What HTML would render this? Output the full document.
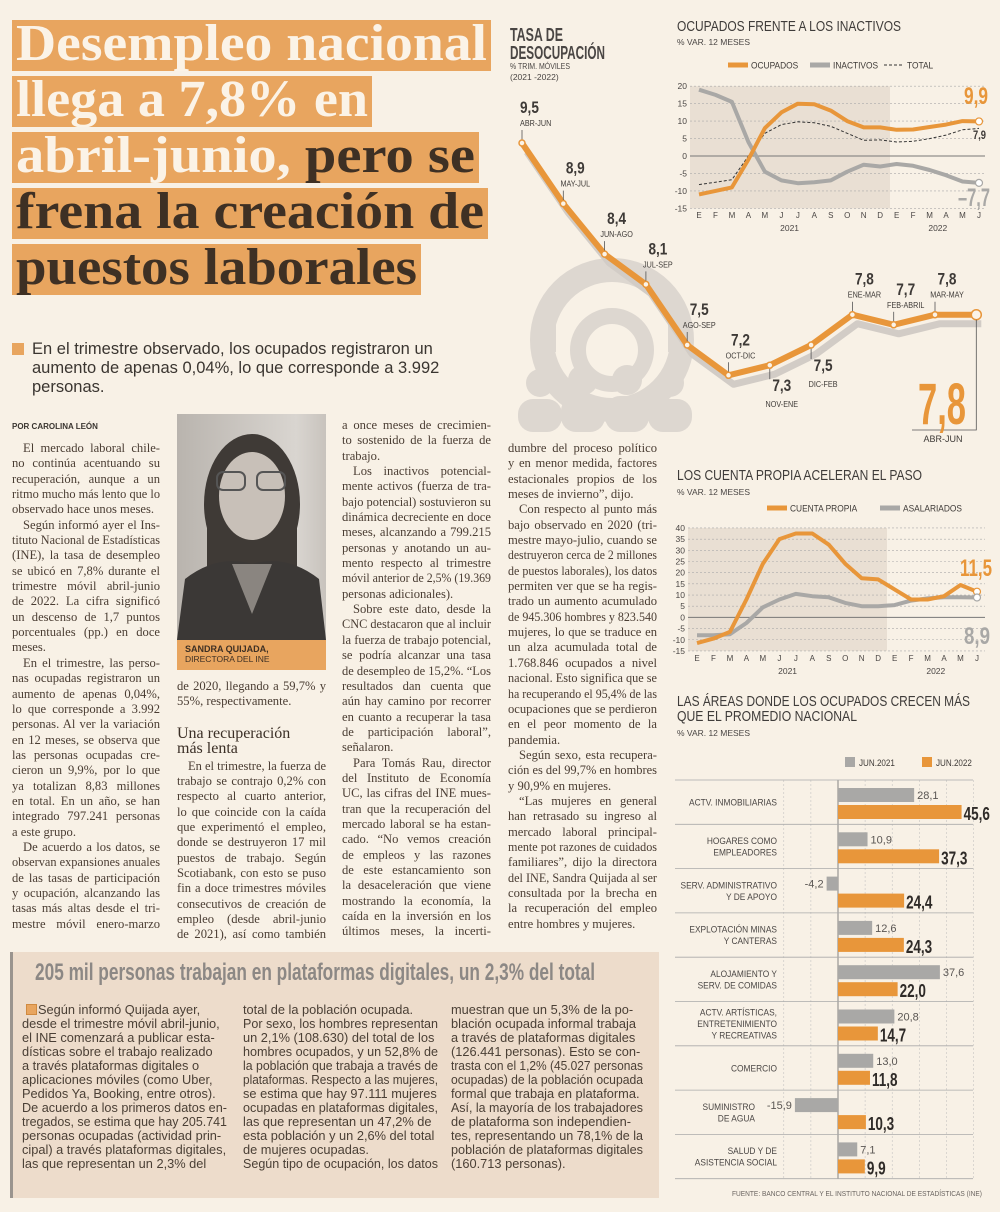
<!DOCTYPE html>
<html lang="es"><head><meta charset="utf-8">
<style>
html,body{margin:0;padding:0}
body{width:1000px;height:1212px;position:relative;background:#f8f1e6;overflow:hidden;font-family:"Liberation Serif",serif;color:#4a3d33}
.abs{position:absolute}
.hb{position:absolute;left:12px;height:51px;background:#e8a55f;overflow:hidden}
.hb > span{position:absolute;left:4px;top:-6px;font:bold 52px/60px "Liberation Serif",serif;white-space:nowrap;display:inline-block;transform-origin:left}
.w{color:#fbf3e7}.d{color:#3e3024}
.col{position:absolute;font-size:12.6px;line-height:15.35px;color:#4a3d33}
.l{height:15.35px;white-space:nowrap;overflow:visible}
.l.i{padding-left:11px}
.bcol{position:absolute;font:12.8px/14px "Liberation Sans Narrow","Liberation Sans",sans-serif;color:#4a3f35}
.bcol .l{height:14px}
.fitw > span{display:inline-block;transform-origin:left}
</style></head><body>
<div class="hb" style="top:20px;width:479px"><span class="w">Desempleo nacional</span></div>
<div class="hb" style="top:76px;width:360px"><span class="w">llega a 7,8% en</span></div>
<div class="hb" style="top:132px;width:467px"><span><span class="w">abril-junio,</span> <span class="d">pero se</span></span></div>
<div class="hb" style="top:188px;width:476px"><span class="d">frena la creación de</span></div>
<div class="hb" style="top:244px;width:409px"><span class="d">puestos laborales</span></div>

<div class="abs" style="left:12px;top:343px;width:12px;height:12px;background:#e8a55f"></div>
<div class="abs" style="left:32px;top:340px;width:440px;font:16.5px/19px 'Liberation Sans',sans-serif;color:#3a3530">En el trimestre observado, los ocupados registraron un<br>aumento de apenas 0,04%, lo que corresponde a 3.992<br>personas.</div>
<div class="abs" style="left:12px;top:422px;font:bold 8px 'Liberation Sans',sans-serif;color:#3a3530">POR CAROLINA LEÓN</div>

<div class="abs" style="left:177px;top:414px;width:149px;height:226px;background:linear-gradient(90deg,#b9b4ae,#d9d5d0 80%,#c8c3bd);overflow:hidden">
<svg width="149" height="226">
<ellipse cx="75" cy="90" rx="48" ry="70" fill="#3f3a36"/>
<rect x="30" y="80" width="90" height="80" fill="#3f3a36"/>
<ellipse cx="75" cy="82" rx="33" ry="44" fill="#c8c0b8"/>
<rect x="40" y="58" width="28" height="18" rx="6" fill="none" stroke="#555" stroke-width="2"/>
<rect x="80" y="58" width="28" height="18" rx="6" fill="none" stroke="#555" stroke-width="2"/>
<path d="M0 226 L8 165 Q40 140 75 150 Q110 140 142 165 L149 226Z" fill="#3b3836"/>
<path d="M55 150 L75 200 L95 150Z" fill="#8a8580"/>
</svg></div>
<div class="abs" style="left:177px;top:640px;width:149px;height:30px;background:#e8a55f;font:8.5px/10px 'Liberation Sans',sans-serif;color:#3e3024"><div style="padding:4px 0 0 8px"><b style="font-size:9px">SANDRA QUIJADA,</b><br>DIRECTORA DEL INE</div></div>

<div class="col" style="left:12px;top:441px;width:148px">
<div class="l i">El mercado laboral chile-</div><div class="l">no continúa acentuando su</div><div class="l">recuperación, aunque a un</div><div class="l">ritmo mucho más lento que lo</div><div class="l e">observado hace unos meses.</div>
<div class="l i">Según informó ayer el Ins-</div><div class="l">tituto Nacional de Estadísticas</div><div class="l">(INE), la tasa de desempleo</div><div class="l">se ubicó en 7,8% durante el</div><div class="l">trimestre móvil abril-junio</div><div class="l">de 2022. La cifra significó</div><div class="l">un descenso de 1,7 puntos</div><div class="l">porcentuales (pp.) en doce</div><div class="l e">meses.</div>
<div class="l i">En el trimestre, las perso-</div><div class="l">nas ocupadas registraron un</div><div class="l">aumento de apenas 0,04%,</div><div class="l">lo que corresponde a 3.992</div><div class="l">personas. Al ver la variación</div><div class="l">en 12 meses, se observa que</div><div class="l">las personas ocupadas cre-</div><div class="l">cieron un 9,9%, por lo que</div><div class="l">ya totalizan 8,83 millones</div><div class="l">en total. En un año, se han</div><div class="l">integrado 797.241 personas</div><div class="l e">a este grupo.</div>
<div class="l i">De acuerdo a los datos, se</div><div class="l">observan expansiones anuales</div><div class="l">de las tasas de participación</div><div class="l">y ocupación, alcanzando las</div><div class="l">tasas más altas desde el tri-</div><div class="l">mestre móvil enero-marzo</div>
</div>

<div class="col" style="left:177px;top:679px;width:149px">
<div class="l">de 2020, llegando a 59,7% y</div><div class="l e">55%, respectivamente.</div>
<div style="height:16px"></div>
<div style="font-size:16px;line-height:15px;color:#3b2f26">Una recuperación<br>más lenta</div>
<div style="height:3px"></div>
<div class="l i">En el trimestre, la fuerza de</div><div class="l">trabajo se contrajo 0,2% con</div><div class="l">respecto al cuarto anterior,</div><div class="l">lo que coincide con la caída</div><div class="l">que experimentó el empleo,</div><div class="l">donde se destruyeron 17 mil</div><div class="l">puestos de trabajo. Según</div><div class="l">Scotiabank, con esto se puso</div><div class="l">fin a doce trimestres móviles</div><div class="l">consecutivos de creación de</div><div class="l">empleo (desde abril-junio</div><div class="l">de 2021), así como también</div>
</div>

<div class="col" style="left:342px;top:418px;width:149px">
<div class="l">a once meses de crecimien-</div><div class="l">to sostenido de la fuerza de</div><div class="l e">trabajo.</div>
<div class="l i">Los inactivos potencial-</div><div class="l">mente activos (fuerza de tra-</div><div class="l">bajo potencial) sostuvieron su</div><div class="l">dinámica decreciente en doce</div><div class="l">meses, alcanzando a 799.215</div><div class="l">personas y anotando un au-</div><div class="l">mento respecto al trimestre</div><div class="l">móvil anterior de 2,5% (19.369</div><div class="l e">personas adicionales).</div>
<div class="l i">Sobre este dato, desde la</div><div class="l">CNC destacaron que al incluir</div><div class="l">la fuerza de trabajo potencial,</div><div class="l">se podría alcanzar una tasa</div><div class="l">de desempleo de 15,2%. “Los</div><div class="l">resultados dan cuenta que</div><div class="l">aún hay camino por recorrer</div><div class="l">en cuanto a recuperar la tasa</div><div class="l">de participación laboral”,</div><div class="l e">señalaron.</div>
<div class="l i">Para Tomás Rau, director</div><div class="l">del Instituto de Economía</div><div class="l">UC, las cifras del INE mues-</div><div class="l">tran que la recuperación del</div><div class="l">mercado laboral se ha estan-</div><div class="l">cado. “No vemos creación</div><div class="l">de empleos y las razones</div><div class="l">de este estancamiento son</div><div class="l">la desaceleración que viene</div><div class="l">mostrando la economía, la</div><div class="l">caída en la inversión en los</div><div class="l">últimos meses, la incerti-</div>
</div>

<div class="col" style="left:508px;top:441px;width:149px">
<div class="l">dumbre del proceso político</div><div class="l">y en menor medida, factores</div><div class="l">estacionales propios de los</div><div class="l e">meses de invierno”, dijo.</div>
<div class="l i">Con respecto al punto más</div><div class="l">bajo observado en 2020 (tri-</div><div class="l">mestre mayo-julio, cuando se</div><div class="l">destruyeron cerca de 2 millones</div><div class="l">de puestos laborales), los datos</div><div class="l">permiten ver que se ha regis-</div><div class="l">trado un aumento acumulado</div><div class="l">de 945.306 hombres y 823.540</div><div class="l">mujeres, lo que se traduce en</div><div class="l">un alza acumulada total de</div><div class="l">1.768.846 ocupados a nivel</div><div class="l">nacional. Esto significa que se</div><div class="l">ha recuperando el 95,4% de las</div><div class="l">ocupaciones que se perdieron</div><div class="l">en el peor momento de la</div><div class="l e">pandemia.</div>
<div class="l i">Según sexo, esta recupera-</div><div class="l">ción es del 99,7% en hombres</div><div class="l e">y 90,9% en mujeres.</div>
<div class="l i">“Las mujeres en general</div><div class="l">han retrasado su ingreso al</div><div class="l">mercado laboral principal-</div><div class="l">mente pot razones de cuidados</div><div class="l">familiares”, dijo la directora</div><div class="l">del INE, Sandra Quijada al ser</div><div class="l">consultada por la brecha en</div><div class="l">la recuperación del empleo</div><div class="l e">entre hombres y mujeres.</div>
</div>

<div class="abs" style="left:10px;top:952px;width:646px;height:246px;background:#eddccb;border-left:3px solid #9a948e"></div>
<div class="abs fitw" style="left:35px;top:958px;width:568px;font:bold 24px/30px 'Liberation Sans Narrow','Liberation Sans',sans-serif;color:#8c8885;white-space:nowrap"><span>205 mil personas trabajan en plataformas digitales, un 2,3% del total</span></div>
<div class="abs" style="left:26px;top:1004px;width:9px;height:9px;background:#e8a55f;border:1px solid #d08a40"></div>
<div class="bcol" style="left:22px;top:1003px;width:205px">
<div class="l e" style="padding-left:16px">Según informó Quijada ayer,</div><div class="l e">desde el trimestre móvil abril-junio,</div><div class="l e">el INE comenzará a publicar esta-</div><div class="l e">dísticas sobre el trabajo realizado</div><div class="l e">a través plataformas digitales o</div><div class="l e">aplicaciones móviles (como Uber,</div><div class="l e">Pedidos Ya, Booking, entre otros).</div><div class="l e">De acuerdo a los primeros datos en-</div><div class="l e">tregados, se estima que hay 205.741</div><div class="l e">personas ocupadas (actividad prin-</div><div class="l e">cipal) a través plataformas digitales,</div><div class="l e">las que representan un 2,3% del</div>
</div>
<div class="bcol" style="left:243px;top:1003px;width:195px">
<div class="l e">total de la población ocupada.</div><div class="l e">Por sexo, los hombres representan</div><div class="l e">un 2,1% (108.630) del total de los</div><div class="l e">hombres ocupados, y un 52,8% de</div><div class="l e">la población que trabaja a través de</div><div class="l e">plataformas. Respecto a las mujeres,</div><div class="l e">se estima que hay 97.111 mujeres</div><div class="l e">ocupadas en plataformas digitales,</div><div class="l e">las que representan un 47,2% de</div><div class="l e">esta población y un 2,6% del total</div><div class="l e">de mujeres ocupadas.</div><div class="l e">Según tipo de ocupación, los datos</div>
</div>
<div class="bcol" style="left:451px;top:1003px;width:192px">
<div class="l e">muestran que un 5,3% de la po-</div><div class="l e">blación ocupada informal trabaja</div><div class="l e">a través de plataformas digitales</div><div class="l e">(126.441 personas). Esto se con-</div><div class="l e">trasta con el 1,2% (45.027 personas</div><div class="l e">ocupadas) de la población ocupada</div><div class="l e">formal que trabaja en plataforma.</div><div class="l e">Así, la mayoría de los trabajadores</div><div class="l e">de plataforma son independien-</div><div class="l e">tes, representando un 78,1% de la</div><div class="l e">población de plataformas digitales</div><div class="l e">(160.713 personas).</div>
</div>

<svg id="charts" class="abs" style="left:0;top:0" width="1000" height="1212">
<g font-family="Liberation Sans Narrow, Liberation Sans, sans-serif">
<text x="510" y="41" font-size="18" font-weight="bold" fill="#4a4644" textLength="53" lengthAdjust="spacingAndGlyphs">TASA DE</text>
<text x="510" y="59" font-size="18" font-weight="bold" fill="#4a4644" textLength="95" lengthAdjust="spacingAndGlyphs">DESOCUPACIÓN</text>
<text x="510" y="69" font-size="8.5" fill="#4a4644" textLength="60" lengthAdjust="spacingAndGlyphs">% TRIM. MÓVILES</text>
<text x="510" y="80" font-size="8.5" fill="#4a4644">(2021 -2022)</text>
<g fill="#ddd7d0">
<circle cx="612" cy="340" r="70" fill="none" stroke="#ddd7d0" stroke-width="24"/>
<circle cx="612" cy="350" r="34" fill="none" stroke="#ddd7d0" stroke-width="16"/>
<rect x="597" y="260" width="30" height="22"/><rect x="534" y="322" width="22" height="30"/><rect x="668" y="322" width="22" height="30"/>
<circle cx="540" cy="383" r="14"/><circle cx="583" cy="380" r="15"/><circle cx="627" cy="380" r="15"/><circle cx="670" cy="383" r="14"/>
<rect x="518" y="399" width="44" height="33" rx="15"/><rect x="561" y="396" width="44" height="36" rx="15"/><rect x="605" y="396" width="44" height="36" rx="15"/><rect x="648" y="399" width="44" height="33" rx="15"/>
</g>
<g id="tasa"></g>
<text x="677" y="31" font-size="14.5" fill="#3f3c3a" textLength="224" lengthAdjust="spacingAndGlyphs">OCUPADOS FRENTE A LOS INACTIVOS</text>
<text x="677" y="45" font-size="8.5" fill="#4a4644" textLength="73" lengthAdjust="spacingAndGlyphs">% VAR. 12 MESES</text>
<g id="occ"></g>
<text x="677" y="480" font-size="14.5" fill="#3f3c3a" textLength="245" lengthAdjust="spacingAndGlyphs">LOS CUENTA PROPIA ACELERAN EL PASO</text>
<text x="677" y="495" font-size="8.5" fill="#4a4644" textLength="73" lengthAdjust="spacingAndGlyphs">% VAR. 12 MESES</text>
<g id="cp"></g>
<text x="677" y="706" font-size="14.5" fill="#3f3c3a" textLength="293" lengthAdjust="spacingAndGlyphs">LAS ÁREAS DONDE LOS OCUPADOS CRECEN MÁS</text>
<text x="677" y="721" font-size="14.5" fill="#3f3c3a" textLength="180" lengthAdjust="spacingAndGlyphs">QUE EL PROMEDIO NACIONAL</text>
<text x="677" y="736" font-size="8.5" fill="#4a4644" textLength="73" lengthAdjust="spacingAndGlyphs">% VAR. 12 MESES</text>
<g id="bars"></g>
<text x="732" y="1196" font-size="7" fill="#6a6460" textLength="250" lengthAdjust="spacingAndGlyphs">FUENTE: BANCO CENTRAL Y EL INSTITUTO NACIONAL DE ESTADÍSTICAS (INE)</text>
</g></svg>

<script>
// ---- Data ----
const tasaPeriods = ['ABR-JUN','MAY-JUL','JUN-AGO','JUL-SEP','AGO-SEP','OCT-DIC','NOV-ENE','DIC-FEB','ENE-MAR','FEB-ABRIL','MAR-MAY','ABR-JUN'];
const tasaValues = [9.5, 8.9, 8.4, 8.1, 7.5, 7.2, 7.3, 7.5, 7.8, 7.7, 7.8, 7.8];
const months = ['E','F','M','A','M','J','J','A','S','O','N','D','E','F','M','A','M','J'];
const yearLabels = ['2021','2022'];
const occOcupados = [-11, -10, -9, -1, 8, 12.5, 15, 14.8, 13, 10, 8.2, 8.2, 7.5, 7.6, 8.3, 9, 10, 9.9];
const occInactivos = [19, 17.5, 15.5, 4, -4.5, -7, -7.8, -7.5, -7, -4.5, -2.5, -3, -2.3, -2.8, -4, -5.5, -7.3, -7.7];
const occTotal = [-8.2, -7.5, -6.8, 0, 6.5, 9, 9.8, 9.5, 8.5, 6.5, 4.5, 4.6, 4, 4.2, 5, 6, 7.5, 7.9];
const occTicks = [20, 15, 10, 5, 0, -5, -10, -15];
const cpCuentaPropia = [-11.5, -9.5, -6.5, 8, 24, 35, 37.5, 37.5, 32.5, 24, 17.5, 17, 12.5, 8, 8, 9.5, 14.5, 11.5];
const cpAsalariados = [-8, -8, -7.5, -2.5, 4.5, 8, 10.5, 9.5, 9, 6.5, 5, 5, 5.5, 7.5, 8.5, 9, 9, 8.9];
const cpTicks = [40, 35, 30, 25, 20, 15, 10, 5, 0, -5, -10, -15];
const barCategories = ['ACTV. INMOBILIARIAS','HOGARES COMO\nEMPLEADORES','SERV. ADMINISTRATIVO\nY DE APOYO','EXPLOTACIÓN MINAS\nY CANTERAS','ALOJAMIENTO Y\nSERV. DE COMIDAS','ACTV. ARTÍSTICAS,\nENTRETENIMIENTO\nY RECREATIVAS','COMERCIO','SUMINISTRO\nDE AGUA','SALUD Y DE\nASISTENCIA SOCIAL'];
const bar2021 = [28.1, 10.9, -4.2, 12.6, 37.6, 20.8, 13.0, -15.9, 7.1];
const bar2022 = [45.6, 37.3, 24.4, 24.3, 22.0, 14.7, 11.8, 10.3, 9.9];
const barGrid = [-20, -10, 0, 10, 20, 30, 40, 50];

const NS='http://www.w3.org/2000/svg';
const ORANGE='#e8963a', GRAY='#a9a8a6';
function mk(tag, attrs, parent){const e=document.createElementNS(NS,tag);for(const k in attrs)e.setAttribute(k,attrs[k]);parent.appendChild(e);return e;}
function fmt(v){return v.toFixed(1).replace('.',',');}
function pathD(xs,ys){return xs.map((x,i)=>(i?'L':'M')+x.toFixed(1)+' '+ys[i].toFixed(1)).join(' ');}
function narrow(t,f){const w=t.getComputedTextLength();if(w>0){t.setAttribute('textLength',(w*f).toFixed(1));t.setAttribute('lengthAdjust','spacingAndGlyphs');}}

// ---- Tasa chart ----
(function(){
const g=document.getElementById('tasa');
const tx=i=>522+i*41.3, ty=v=>143+(9.5-v)*101;
const xs=tasaValues.map((v,i)=>tx(i)), ys=tasaValues.map(ty);
const sh=mk('path',{d:pathD(xs.map(x=>x+5),ys.map(y=>y+9)),fill:'none',stroke:'#d2ccc6','stroke-width':7,'stroke-linejoin':'round'},g);


const ln=mk('path',{d:pathD(xs,ys),fill:'none',stroke:ORANGE,'stroke-width':6,'stroke-linejoin':'round'},g);


const below=[6,7];
tasaValues.forEach((v,i)=>{
  const x=xs[i], y=ys[i], b=below.includes(i), last=i===tasaValues.length-1;
  if(!last){
    const t=mk('line',{x1:x,y1:y,x2:x,y2:b?y+14:y-13,stroke:'#555','stroke-width':0.8},g);
    
    
    const lx=i===0?x-2:x+12, anc=i===0?'start':'middle';
    const vt=mk('text',{x:lx,y:b?y+26:y-30,'font-size':17,'font-weight':'bold','text-anchor':anc,fill:'#3e3a37'},g);
    vt.textContent=fmt(v);
    
    
    narrow(vt,0.8);
    const pt=mk('text',{x:lx,y:b?y+42:y-17,'font-size':8.5,'text-anchor':anc,fill:'#3e3a37'},g);
    pt.textContent=tasaPeriods[i];
    
    
    narrow(pt,0.85);
  }
  const c=mk('circle',{cx:x,cy:y,r:last?5:3,fill:'#fbf3e7',stroke:ORANGE,'stroke-width':1.5},g);
  
  
});
const lx=xs[xs.length-1], ly=ys[ys.length-1];
const vl=mk('path',{d:`M${lx} ${ly+5} L${lx} 430 L912 430`,fill:'none',stroke:'#555','stroke-width':0.8},g);


const big=mk('text',{x:918,y:424,'font-size':58,'font-weight':'bold',fill:ORANGE,textLength:48,lengthAdjust:'spacingAndGlyphs'},g);
big.textContent=fmt(tasaValues[tasaValues.length-1]);


const bp=mk('text',{x:943,y:442,'font-size':9,'text-anchor':'middle',fill:'#3e3a37'},g);
bp.textContent=tasaPeriods[tasaPeriods.length-1];


})();

// ---- shared line chart builder ----
function lineChart(g, cfg){
  const {x0,dx,zeroY,scale,left,right,shadeR,ticks,series,monthY,name}=cfg;
  const X=i=>x0+i*dx, Y=v=>zeroY-v*scale;
  const top=Y(ticks[0]), bot=Y(ticks[ticks.length-1]);
  const sh=mk('rect',{x:left,y:top,width:shadeR-left,height:bot-top,fill:'#e9dfd3'},g);
  
  
  ticks.forEach(t=>{
    const gl=mk('line',{x1:left,x2:right,y1:Y(t),y2:Y(t),stroke:t===0?'#777':'#aaa','stroke-width':t===0?1:0.6,'stroke-dasharray':t===0?'':'2 2'},g);
    
    
    const tl=mk('text',{x:left-3,y:Y(t)+3,'font-size':8.5,'text-anchor':'end',fill:'#4a4644'},g);
    tl.textContent=t;
    
    
  });
  months.forEach((m,i)=>{
    const ml=mk('text',{x:X(i),y:monthY,'font-size':8,'text-anchor':'middle',fill:'#4a4644'},g);
    ml.textContent=m;
    
    
  });
  yearLabels.forEach((yl,k)=>{
    const cx=k===0?(X(0)+X(11))/2:(X(12)+X(17))/2;
    const t=mk('text',{x:cx,y:monthY+13,'font-size':8.5,'text-anchor':'middle',fill:'#4a4644'},g);
    t.textContent=yl;
    
    
  });
  series.forEach(s=>{
    const p=mk('path',{d:pathD(s.data.map((v,i)=>X(i)),s.data.map(Y)),fill:'none',stroke:s.color,'stroke-width':s.w,'stroke-dasharray':s.dash||'','stroke-linejoin':'round'},g);
    
    
  });
  return {X,Y};
}
function legendItem(g,x,y,color,w,dash,label,name){
  const l=mk('line',{x1:x,x2:x+20,y1:y,y2:y,stroke:color,'stroke-width':w,'stroke-dasharray':dash||''},g);
  
  
  const t=mk('text',{x:x+23,y:y+3.5,'font-size':9.5,fill:'#3e3a37'},g);
  t.textContent=label;
  
  
  narrow(t,0.88);
}
function endLabel(g,x,y,txt,size,color,name,len){
  const t=mk('text',{x:x-len,y:y,'font-size':size,'font-weight':'bold',fill:color,textLength:len,lengthAdjust:'spacingAndGlyphs'},g);
  t.textContent=txt;
  
  
}

// ---- Ocupados chart ----
(function(){
const g=document.getElementById('occ');
legendItem(g,728,65,ORANGE,5,'','OCUPADOS','legend-ocupados');
legendItem(g,810,65,GRAY,5,'','INACTIVOS','legend-inactivos');
legendItem(g,884,65,'#333',1,'3 2','TOTAL','legend-total');
const {X,Y}=lineChart(g,{x0:699,dx:16.47,zeroY:156,scale:3.49,left:690,right:985,shadeR:890,ticks:occTicks,monthY:218,name:'ocupados',
 series:[{data:occInactivos,color:GRAY,w:4,name:'inactivos-line'},{data:occTotal,color:'#333',w:1,dash:'3 2',name:'total-line'},{data:occOcupados,color:ORANGE,w:4,name:'ocupados-line'}]});
const n=occOcupados.length-1;
[[occOcupados,ORANGE],[occInactivos,GRAY]].forEach(([d,c])=>{
  const p=mk('circle',{cx:X(n),cy:Y(d[n]),r:3.5,fill:'#fff',stroke:c,'stroke-width':1.2},g);
  
  
});
endLabel(g,988,104,fmt(occOcupados[n]),24,ORANGE,'ocupados-final-value',24);
endLabel(g,986,139,fmt(occTotal[n]),12,'#3e3a37','total-final-value',13);
endLabel(g,990,206,fmt(occInactivos[n]).replace('-','–'),25,GRAY,'inactivos-final-value',32);
})();

// ---- Cuenta propia chart ----
(function(){
const g=document.getElementById('cp');
legendItem(g,767,508,ORANGE,5,'','CUENTA PROPIA','legend-cuenta-propia');
legendItem(g,880,508,GRAY,5,'','ASALARIADOS','legend-asalariados');
const {X,Y}=lineChart(g,{x0:697,dx:16.47,zeroY:617.4,scale:2.236,left:688,right:985,shadeR:887,ticks:cpTicks,monthY:661,name:'cuenta-propia',
 series:[{data:cpAsalariados,color:GRAY,w:4,name:'asalariados-line'},{data:cpCuentaPropia,color:ORANGE,w:4,name:'cuenta-propia-line'}]});
const n=cpCuentaPropia.length-1;
[[cpCuentaPropia,ORANGE],[cpAsalariados,GRAY]].forEach(([d,c])=>{
  const p=mk('circle',{cx:X(n),cy:Y(d[n]),r:3.5,fill:'#fff',stroke:c,'stroke-width':1.2},g);
  
  
});
endLabel(g,992,576,fmt(cpCuentaPropia[n]),24,ORANGE,'cuenta-propia-final-value',32);
endLabel(g,990,644,fmt(cpAsalariados[n]),24,GRAY,'asalariados-final-value',26);
})();

// ---- Bar chart ----
(function(){
const g=document.getElementById('bars');
const BX=v=>838+v*2.71, rowTop=i=>780+i*44.3;
const lg1=mk('rect',{x:845,y:757,width:10,height:10,fill:GRAY},g);


const lt1=mk('text',{x:859,y:766,'font-size':9.5,fill:'#3e3a37'},g);lt1.textContent='JUN.2021';


narrow(lt1,0.85);
const lg2=mk('rect',{x:922,y:757,width:10,height:10,fill:ORANGE},g);


const lt2=mk('text',{x:936,y:766,'font-size':9.5,fill:'#3e3a37'},g);lt2.textContent='JUN.2022';


narrow(lt2,0.85);
barGrid.forEach(v=>{
  const l=mk('line',{x1:BX(v),x2:BX(v),y1:780,y2:rowTop(barCategories.length),stroke:v===0?'#777':'#bbb','stroke-width':v===0?0.9:0.5,'stroke-dasharray':v===0?'':'2 2'},g);
  
  
});
for(let i=0;i<=barCategories.length;i++){
  const s=mk('line',{x1:675,x2:973,y1:rowTop(i),y2:rowTop(i),stroke:'#aaa','stroke-width':0.8},g);
  
  
}
barCategories.forEach((cat,i)=>{
  const top=rowTop(i), mid=top+22;
  const lines=cat.split('\n');
  const lx=bar2021[i]<-10?755:777;
  lines.forEach((ln,k)=>{
    const t=mk('text',{x:lx,y:mid+3.5+(k-(lines.length-1)/2)*11.5,'font-size':9.5,'text-anchor':'end',fill:'#4a4644'},g);
    t.textContent=ln;
    
    
    narrow(t,0.88);
  });
  const v1=bar2021[i], v2=bar2022[i];
  const r1=mk('rect',{x:Math.min(BX(0),BX(v1)),y:top+8,width:Math.abs(BX(v1)-BX(0)),height:14,fill:GRAY},g);
  
  
  const t1=mk('text',{x:v1<0?BX(v1)-3:BX(v1)+3,y:top+19,'font-size':11,'text-anchor':v1<0?'end':'start',fill:'#5a5653'},g);
  t1.textContent=fmt(v1);
  
  
  const r2=mk('rect',{x:BX(0),y:top+25,width:BX(v2)-BX(0),height:14,fill:ORANGE},g);
  
  
  const t2=mk('text',{x:BX(v2)+2,y:top+40,'font-size':18,'font-weight':'bold',fill:'#2f2b28'},g);
  t2.textContent=fmt(v2);
  
  
  narrow(t2,0.75);
});
})();

// ---- text fitting ----
document.querySelectorAll('.hb > span, .fitw > span').forEach(s=>{
  const W=s.parentElement.clientWidth-8, w=s.getBoundingClientRect().width;
  if(w>0) s.style.transform='scaleX('+(W/w)+')';
});
document.querySelectorAll('.l').forEach(el=>{
  const cs=getComputedStyle(el);
  const W=el.clientWidth-parseFloat(cs.paddingLeft);
  const s=document.createElement('span');
  
  
  while(el.firstChild) s.appendChild(el.firstChild);
  el.appendChild(s);
  s.style.display='inline-block';
  s.style.whiteSpace='nowrap';
  const w=s.getBoundingClientRect().width;
  if(w>W){ s.style.transformOrigin='left'; s.style.transform='scaleX('+(W/w)+')'; }
  else if(!el.classList.contains('e')){
    const n=(s.textContent.match(/ /g)||[]).length;
    if(n) s.style.wordSpacing=((W-w)/n)+'px';
  }
});
</script>
</body></html>
